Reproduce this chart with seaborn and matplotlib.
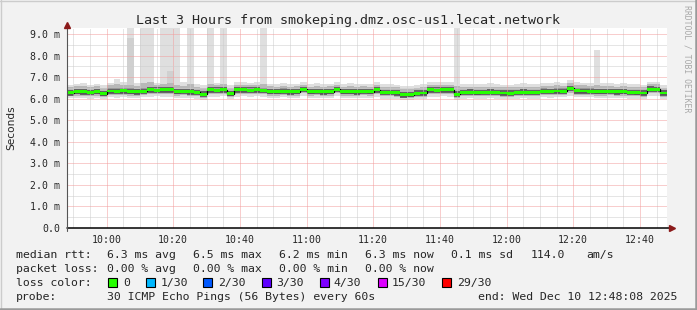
import numpy as np
import pandas as pd
import matplotlib
matplotlib.use("Agg")
import matplotlib.pyplot as plt
import seaborn as sns
from matplotlib.patches import Rectangle
from matplotlib.lines import Line2D

# ---------------- data ----------------
title = "Last 3 Hours from smokeping.dmz.osc-us1.lecat.network"
start_time = "09:48:08"          # left edge of the graph
span_minutes = 180
step_minutes = 2                 # one smoke column per step
tick_labels = ["10:00", "10:20", "10:40", "11:00", "11:20", "11:40", "12:00", "12:20", "12:40"]
y_ticks = [0, 1, 2, 3, 4, 5, 6, 7, 8, 9]
y_tick_labels = ["0.0", "1.0 m", "2.0 m", "3.0 m", "4.0 m", "5.0 m", "6.0 m", "7.0 m", "8.0 m", "9.0 m"]

# median rtt (ms)
med = [6.28, 6.33, 6.33, 6.30, 6.33, 6.24, 6.36, 6.35, 6.37, 6.33,
       6.32, 6.34, 6.41, 6.40, 6.42, 6.41, 6.33, 6.34, 6.32, 6.30,
       6.20, 6.42, 6.40, 6.43, 6.24, 6.41, 6.42, 6.40, 6.41, 6.39,
       6.33, 6.33, 6.35, 6.32, 6.33, 6.44, 6.33, 6.34, 6.32, 6.33,
       6.44, 6.33, 6.33, 6.32, 6.34, 6.33, 6.41, 6.30, 6.30, 6.28,
       6.18, 6.19, 6.26, 6.27, 6.41, 6.40, 6.42, 6.41, 6.20, 6.30,
       6.31, 6.29, 6.30, 6.31, 6.30, 6.27, 6.26, 6.30, 6.31, 6.30,
       6.30, 6.35, 6.34, 6.36, 6.35, 6.48, 6.37, 6.36, 6.35, 6.33,
       6.33, 6.34, 6.32, 6.33, 6.30, 6.29, 6.27, 6.45, 6.44, 6.27]
# smoke: ping distribution per step (ms)
ping_min = [6.02, 6.05, 6.04, 6.00, 6.05, 5.98, 6.06, 6.05, 6.07, 6.04,
            6.03, 6.06, 6.10, 6.12, 6.10, 6.08, 6.04, 6.05, 6.02, 6.00,
            5.95, 6.10, 6.10, 6.12, 5.98, 6.10, 6.12, 6.10, 6.12, 6.08,
            6.04, 6.04, 6.06, 6.02, 6.04, 6.12, 6.04, 6.05, 6.02, 6.04,
            6.12, 6.04, 6.04, 6.02, 6.05, 6.04, 6.10, 6.00, 6.00, 5.98,
            5.94, 5.95, 5.99, 6.00, 6.10, 6.10, 6.12, 6.10, 5.96, 6.01,
            6.02, 6.00, 6.01, 6.02, 6.01, 5.98, 5.97, 6.01, 6.02, 6.01,
            6.01, 6.06, 6.05, 6.07, 6.06, 6.15, 6.08, 6.07, 6.06, 6.04,
            6.04, 6.05, 6.03, 6.04, 6.01, 6.00, 5.98, 6.12, 6.12, 5.98]
ping_p10 = [6.12, 6.15, 6.14, 6.12, 6.15, 6.08, 6.17, 6.16, 6.18, 6.15,
            6.14, 6.16, 6.22, 6.22, 6.23, 6.22, 6.15, 6.16, 6.14, 6.12,
            6.04, 6.23, 6.22, 6.24, 6.08, 6.22, 6.24, 6.22, 6.23, 6.21,
            6.15, 6.15, 6.17, 6.14, 6.15, 6.25, 6.15, 6.16, 6.14, 6.15,
            6.25, 6.15, 6.15, 6.14, 6.16, 6.15, 6.22, 6.12, 6.12, 6.10,
            6.02, 6.03, 6.09, 6.10, 6.22, 6.22, 6.24, 6.22, 6.04, 6.12,
            6.13, 6.11, 6.12, 6.13, 6.12, 6.09, 6.08, 6.12, 6.13, 6.12,
            6.12, 6.17, 6.16, 6.18, 6.17, 6.28, 6.19, 6.18, 6.17, 6.15,
            6.15, 6.16, 6.14, 6.15, 6.12, 6.11, 6.09, 6.26, 6.25, 6.09]
ping_q1 = [6.15, 6.20, 6.19, 6.17, 6.20, 6.11, 6.22, 6.22, 6.23, 6.20,
           6.19, 6.21, 6.27, 6.27, 6.28, 6.27, 6.20, 6.21, 6.19, 6.17,
           6.07, 6.28, 6.27, 6.29, 6.11, 6.27, 6.29, 6.27, 6.28, 6.26,
           6.20, 6.20, 6.22, 6.19, 6.20, 6.30, 6.20, 6.21, 6.19, 6.20,
           6.30, 6.20, 6.20, 6.19, 6.21, 6.20, 6.28, 6.17, 6.17, 6.15,
           6.05, 6.06, 6.13, 6.14, 6.28, 6.27, 6.29, 6.28, 6.07, 6.17,
           6.18, 6.16, 6.17, 6.18, 6.17, 6.14, 6.13, 6.17, 6.18, 6.17,
           6.17, 6.22, 6.21, 6.23, 6.22, 6.34, 6.24, 6.23, 6.22, 6.20,
           6.20, 6.21, 6.19, 6.20, 6.17, 6.16, 6.14, 6.31, 6.30, 6.14]
ping_q3 = [6.42, 6.46, 6.47, 6.43, 6.46, 6.38, 6.49, 6.48, 6.51, 6.48,
           6.45, 6.48, 6.54, 6.53, 6.56, 6.57, 6.46, 6.47, 6.46, 6.43,
           6.34, 6.55, 6.53, 6.57, 6.38, 6.54, 6.55, 6.53, 6.54, 6.52,
           6.46, 6.46, 6.49, 6.45, 6.46, 6.57, 6.46, 6.47, 6.45, 6.46,
           6.57, 6.46, 6.46, 6.45, 6.47, 6.46, 6.54, 6.43, 6.43, 6.41,
           6.32, 6.33, 6.39, 6.40, 6.54, 6.53, 6.55, 6.54, 6.34, 6.43,
           6.44, 6.42, 6.43, 6.44, 6.43, 6.40, 6.39, 6.43, 6.44, 6.43,
           6.43, 6.48, 6.47, 6.49, 6.48, 6.61, 6.50, 6.49, 6.48, 6.46,
           6.46, 6.47, 6.45, 6.46, 6.43, 6.42, 6.40, 6.58, 6.57, 6.40]
ping_p90 = [6.55, 6.58, 6.60, 6.56, 6.58, 6.52, 6.62, 6.70, 6.65, 6.66,
            6.58, 6.75, 6.80, 6.62, 6.70, 6.72, 6.65, 6.60, 6.70, 6.56,
            6.50, 6.70, 6.62, 6.68, 6.52, 6.64, 6.66, 6.62, 6.64, 6.68,
            6.58, 6.57, 6.60, 6.56, 6.58, 6.66, 6.57, 6.60, 6.56, 6.58,
            6.66, 6.57, 6.58, 6.56, 6.58, 6.57, 6.66, 6.55, 6.56, 6.54,
            6.45, 6.46, 6.52, 6.54, 6.66, 6.64, 6.66, 6.65, 6.60, 6.56,
            6.57, 6.55, 6.56, 6.57, 6.56, 6.54, 6.53, 6.56, 6.57, 6.56,
            6.56, 6.60, 6.60, 6.62, 6.60, 6.72, 6.62, 6.62, 6.60, 6.62,
            6.58, 6.60, 6.57, 6.58, 6.56, 6.55, 6.54, 6.68, 6.68, 6.52]
# second-highest pings where they stand well above the band (step index: ms)
ping_high2 = {9: 8.80, 15: 7.30}
ping_max = [6.65, 6.70, 6.72, 6.66, 6.70, 6.62, 6.75, 6.90, 6.78, 9.50,
            6.72, 9.50, 9.50, 6.75, 9.50, 9.50, 9.50, 6.80, 9.50, 6.68,
            6.62, 9.50, 6.75, 9.50, 6.66, 6.76, 6.78, 6.74, 6.76, 9.50,
            6.70, 6.68, 6.72, 6.68, 6.70, 6.80, 6.70, 6.72, 6.68, 6.70,
            6.78, 6.70, 6.72, 6.68, 6.70, 6.70, 6.80, 6.68, 6.70, 6.66,
            6.58, 6.60, 6.66, 6.68, 6.80, 6.78, 6.80, 6.78, 9.50, 6.70,
            6.70, 6.68, 6.70, 6.72, 6.70, 6.66, 6.65, 6.70, 6.72, 6.70,
            6.70, 6.74, 6.74, 6.76, 6.74, 6.86, 6.76, 6.75, 6.74, 8.25,
            6.72, 6.74, 6.70, 6.72, 6.70, 6.68, 6.66, 6.80, 6.80, 6.66]

stat_rtt = ["median rtt:", "6.3 ms avg", "6.5 ms max", "6.2 ms min", "6.3 ms now",
            "0.1 ms sd", "114.0", "am/s"]
stat_loss = ["packet loss:", "0.00 % avg", "0.00 % max", "0.00 % min", "0.00 % now"]
loss_title = "loss color:"
loss_labels = ["0", "1/30", "2/30", "3/30", "4/30", "15/30", "29/30"]
loss_colors = ["#26ff00", "#00b8ff", "#0059ff", "#5e00ff", "#7e00ff", "#dd00ff", "#ff0000"]
probe_line = ["probe:", "30 ICMP Echo Pings (56 Bytes) every 60s", "end: Wed Dec 10 12:48:08 2025"]
side_note = "RRDTOOL / TOBI OETIKER"

# ---------------- helpers ----------------
W, H = 697, 310
def to_min(hhmm):
    parts = [int(p) for p in hhmm.split(":")]
    while len(parts) < 3:
        parts.append(0)
    return parts[0] * 60 + parts[1] + parts[2] / 60.0

t0 = to_min(start_time)
tick_pos = [to_min(t) - t0 for t in tick_labels]

n = len(med)
edges = np.arange(n + 1) * step_minutes
def ext(a):
    a = list(a)
    return np.array(a + [a[-1]])

df = pd.DataFrame({"t": edges, "median": ext(med)})

sns.set_style("white")
plt.rcParams["font.family"] = ["DejaVu Sans Mono", "DejaVu Sans"]

fig = plt.figure(figsize=(W / 100, H / 100), dpi=100, facecolor="#f2f2f2")
top_px, bot_px, left_px, right_px = 27.5, 228, 67, 667
ax = fig.add_axes([left_px / W, 1 - bot_px / H, (right_px - left_px) / W, (bot_px - top_px) / H])
ax.set_facecolor("white")

# smoke
ax.fill_between(edges, ext(ping_min), ext(ping_max), step="post", color="#dfdfdf", lw=0, zorder=1, antialiased=False)
for i, v in ping_high2.items():
    ax.fill_between(edges[i:i + 2], [ping_p90[i]] * 2, [v] * 2, color="#d0d0d0", lw=0, zorder=1.05, antialiased=False)
ax.fill_between(edges, ext(ping_p10), ext(ping_p90), step="post", color="#b8b8b8", lw=0, zorder=1.1, antialiased=False)
ax.fill_between(edges, ext(ping_q1), ext(ping_q3), step="post", color="#646464", lw=0, zorder=1.2, antialiased=False)

# median: black line with loss-coloured band
sns.lineplot(data=df, x="t", y="median", drawstyle="steps-post", color="black",
             lw=0.9, ax=ax, zorder=3, legend=False)
band = 0.068
ax.fill_between(edges, ext(med) - band, ext(med) + band, step="post",
                color=loss_colors[0], lw=0, zorder=4, antialiased=False)

ax.set_xlim(0, span_minutes)
ax.set_ylim(0, 9.31)

# grid
ax.set_axisbelow(False)
ax.set_xticks(tick_pos)
ax.set_xticks(np.arange(tick_pos[0] % 5, span_minutes, 5), minor=True)
ax.set_yticks(y_ticks)
ax.set_yticks(np.arange(0.5, 9.31, 1.0), minor=True)
dot = (0, (1, 1))
ax.grid(which="minor", color="#cdcdcd", lw=0.72, linestyle=dot, zorder=2.5)
ax.grid(which="major", color="#f29c9c", lw=0.72, linestyle=dot, zorder=2.6)

ax.set_xticklabels(tick_labels, fontsize=7.1, family="DejaVu Sans Mono")
ax.set_yticklabels(y_tick_labels, fontsize=7.1, family="DejaVu Sans Mono")
ax.tick_params(axis="y", which="major", length=2.4, width=0.72, color="#444444", pad=2.6, direction="out")
ax.tick_params(axis="y", which="minor", length=0)
ax.tick_params(axis="x", which="major", length=2.2, width=0.72, color="#f19a9a", pad=4.2, direction="inout")
ax.tick_params(axis="x", which="minor", length=1.5, width=0.72, color="#bbbbbb", direction="inout")
for s in ax.spines.values():
    s.set_visible(False)

# axis lines + arrows
ax.add_line(Line2D([0, 1.009], [0, 0], transform=ax.transAxes, color="black", lw=1.1, clip_on=False, zorder=6))
ax.add_line(Line2D([0, 0], [-0.015, 1.0], transform=ax.transAxes, color="#555555", lw=0.8, clip_on=False, zorder=6))
ax.plot([0], [1.012], marker="^", ms=4.3, color="#8b1a1a", transform=ax.transAxes, clip_on=False, zorder=7)
ax.plot([1.009], [0], marker=">", ms=4.3, color="#8b1a1a", transform=ax.transAxes, clip_on=False, zorder=7)

ax.set_xlabel("")
ax.set_ylabel("")

def ft(x, y, s, **kw):
    kw.setdefault("family", "DejaVu Sans Mono")
    return fig.text(x / W, 1 - y / H, s, **kw)

ft(348.5, 24, title, fontsize=9.6, ha="center", va="baseline")
ft(11, 128, "Seconds", fontsize=7.6, family="DejaVu Sans", rotation=90, ha="center", va="center")
ft(687, 5, side_note, fontsize=5.9, color="#a8a8a8", rotation=270, ha="center", va="top")

fs = 8.25
rtt_x = [16, 106.7, 193.3, 279.3, 365, 451, 531, 586]
for x, s in zip(rtt_x, stat_rtt):
    ft(x, 257.6, s, fontsize=fs, ha="left", va="baseline")
loss_x = [16, 106.7, 193.3, 279.3, 365]
for x, s in zip(loss_x, stat_loss):
    ft(x, 271.7, s, fontsize=fs, ha="left", va="baseline")
ft(16, 285.8, loss_title, fontsize=fs, ha="left", va="baseline")
box_x = [108, 146, 203, 262, 320, 378, 442]
lab_x = [123, 160.7, 218, 276.7, 333, 392, 457]
for bx, lx, lab, c in zip(box_x, lab_x, loss_labels, loss_colors):
    fig.add_artist(Rectangle((bx / W, 1 - 287 / H), 9 / W, 9 / H, facecolor=c,
                             edgecolor="black", lw=0.8, transform=fig.transFigure))
    ft(lx, 285.8, lab, fontsize=fs, ha="left", va="baseline")
probe_x = [16, 107, 478.3]
for x, s in zip(probe_x, probe_line):
    ft(x, 299.9, s, fontsize=fs, ha="left", va="baseline")

# frame
fig.add_artist(Line2D([0, 1], [1 - 0.5 / H] * 2, transform=fig.transFigure, color="#cccccc", lw=1.0))
fig.add_artist(Line2D([0.5 / W] * 2, [0, 1], transform=fig.transFigure, color="#cccccc", lw=1.0))
fig.add_artist(Line2D([1 - 1.2 / W] * 2, [0, 1], transform=fig.transFigure, color="#9a9a9a", lw=1.8))
fig.add_artist(Line2D([0, 1], [1.2 / H] * 2, transform=fig.transFigure, color="#9a9a9a", lw=1.8))

fig.savefig("out.png", dpi=100, facecolor=fig.get_facecolor())
